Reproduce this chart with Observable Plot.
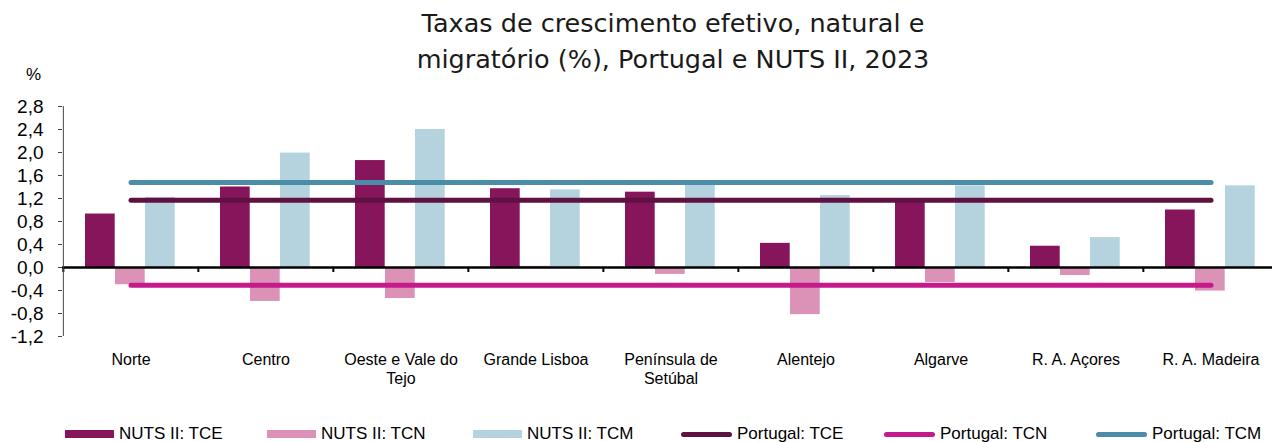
<!DOCTYPE html>
<html>
<head>
<meta charset="utf-8">
<script src="https://cdn.jsdelivr.net/npm/d3@7"></script>
<script src="https://cdn.jsdelivr.net/npm/@observablehq/plot@0.6"></script>
<style>
  html, body { margin: 0; padding: 0; background: #fff; }
  #wrap { width: 1272px; height: 442px; position: relative; overflow: hidden; }
  #title { height: 60px; padding-top: 5px; box-sizing: border-box; padding-left: 74px; text-align: center;
           font-family: "DejaVu Sans", sans-serif; font-size: 25.5px; line-height: 36px; color: #1a1a1a; white-space: nowrap; position: relative; }
  #legend { position: relative; height: 22px; font-family: "Liberation Sans", Arial, sans-serif; font-size: 17px; color: #000; }
  #legend .sw { position: absolute; }
  #legend .tx { position: absolute; line-height: 1; top: 4.6px; white-space: nowrap; }
</style>
</head>
<body>
<div id="wrap">
  <div id="title">Taxas de crescimento efetivo, natural e<br>migratório (%), Portugal e NUTS II, 2023</div>
  <div id="chart"></div>
  <div id="legend"></div>
</div>
<script>
// ---- Data ----
const categories = ["Norte", "Centro", "Oeste e Vale do Tejo", "Grande Lisboa", "Península de Setúbal", "Alentejo", "Algarve", "R. A. Açores", "R. A. Madeira"];
const categoryLabels = ["Norte", "Centro", "Oeste e Vale do\nTejo", "Grande Lisboa", "Península de\nSetúbal", "Alentejo", "Algarve", "R. A. Açores", "R. A. Madeira"];
const tce = [0.93, 1.40, 1.86, 1.37, 1.31, 0.42, 1.17, 0.37, 1.00];
const tcn = [-0.30, -0.59, -0.54, 0.02, -0.12, -0.82, -0.26, -0.14, -0.41];
const tcm = [1.22, 1.99, 2.40, 1.35, 1.44, 1.25, 1.42, 0.52, 1.42];
const portugalTCE = 1.17;
const portugalTCN = -0.31;
const portugalTCM = 1.48;
const yTicks = [-1.2, -0.8, -0.4, 0.0, 0.4, 0.8, 1.2, 1.6, 2.0, 2.4, 2.8];
const barSeries = ["NUTS II: TCE", "NUTS II: TCN", "NUTS II: TCM"];
const lineSeries = ["Portugal: TCE", "Portugal: TCN", "Portugal: TCM"];

// ---- Styles ----
const barColors = ["#87155b", "#db92b6", "#b4d3de"];
const lineColors = ["#5f1242", "#c41a8b", "#4b8ca8"];

const rows = categories.map((c, i) => ({cat: c, tce: tce[i], tcn: tcn[i], tcm: tcm[i]}));
const xRange = [62, 1279.6];
const bw = (xRange[1] - xRange[0]) / categories.length;
const barW = 30, barOff = 22;
const labelOf = d => categoryLabels[categories.indexOf(d)];
const fmt = d => d.toFixed(1).replace(".", ",");

const chart = Plot.plot({
  width: 1272,
  height: 360,
  marginTop: 46,
  marginBottom: 84,
  marginLeft: 62,
  marginRight: 0,
  style: {background: "none", fontFamily: "'Liberation Sans', Arial, sans-serif", fontSize: "16px", color: "#000", overflow: "visible"},
  x: {type: "band", domain: categories, range: xRange, padding: 0, axis: null},
  y: {domain: [yTicks[0], yTicks[yTicks.length - 1]], axis: null},
  marks: [
    Plot.barY(rows, {x: "cat", y: "tce", fill: barColors[0], insetLeft: barOff, insetRight: bw - barOff - barW}),
    Plot.barY(rows, {x: "cat", y: "tcn", fill: barColors[1], insetLeft: barOff + barW, insetRight: bw - barOff - 2 * barW}),
    Plot.barY(rows, {x: "cat", y: "tcm", fill: barColors[2], insetLeft: barOff + 2 * barW, insetRight: bw - barOff - 3 * barW}),
    Plot.ruleY([0], {stroke: "#000", strokeWidth: 2.5}),
    Plot.ruleX(categories, {x: d => d, y1: () => 0, y2: () => 0, insetBottom: -5, dx: -bw / 2, stroke: "#000", strokeWidth: 2}),
    Plot.ruleX(categories.slice(0, 1), {x: d => d, y1: () => yTicks[0], y2: () => yTicks[yTicks.length - 1], dx: -bw / 2, stroke: "#444", strokeWidth: 1}),
    Plot.axisY({ticks: yTicks, tickFormat: () => "", tickSize: 4, label: null, stroke: "#444"}),
    Plot.text(yTicks, {y: d => d, text: fmt, frameAnchor: "left", textAnchor: "end", dx: -19, fontSize: 19, fill: "#000"}),
    Plot.axisX({anchor: "bottom", tickSize: 0, tickPadding: 15, tickFormat: labelOf, fontSize: 16, lineHeight: 1.2, label: null}),
    Plot.lineY(categories, {x: d => d, y: () => portugalTCE, stroke: lineColors[0], strokeWidth: 5, strokeLinecap: "round"}),
    Plot.lineY(categories, {x: d => d, y: () => portugalTCN, stroke: lineColors[1], strokeWidth: 5, strokeLinecap: "round"}),
    Plot.lineY(categories, {x: d => d, y: () => portugalTCM, stroke: lineColors[2], strokeWidth: 5, strokeLinecap: "round"}),
    Plot.text(["%"], {frameAnchor: "top-left", textAnchor: "middle", lineAnchor: "middle", dx: -29, dy: -32, fontSize: 17})
  ]
});
document.getElementById("chart").appendChild(chart);

// ---- Legend ----
const legend = document.getElementById("legend");
const lefts = [65, 267, 473, 681, 884, 1096];
const items = [
  ...barSeries.map((s, i) => ({name: s, color: barColors[i], kind: "bar"})),
  ...lineSeries.map((s, i) => ({name: s, color: lineColors[i], kind: "line"}))
];
items.forEach((it, i) => {
  const sw = document.createElement("div");
  sw.className = "sw";
  sw.style.left = lefts[i] + "px";
  sw.style.background = it.color;
  if (it.kind === "bar") {
    sw.style.top = "10px"; sw.style.width = "49px"; sw.style.height = "8px";
  } else {
    sw.style.top = "11.5px"; sw.style.width = "51px"; sw.style.height = "5px"; sw.style.borderRadius = "2.5px";
  }
  legend.appendChild(sw);
  const tx = document.createElement("div");
  tx.className = "tx";
  tx.style.left = (lefts[i] + (it.kind === "bar" ? 54 : 56)) + "px";
  tx.textContent = it.name;
  legend.appendChild(tx);
});
</script>
</body>
</html>
